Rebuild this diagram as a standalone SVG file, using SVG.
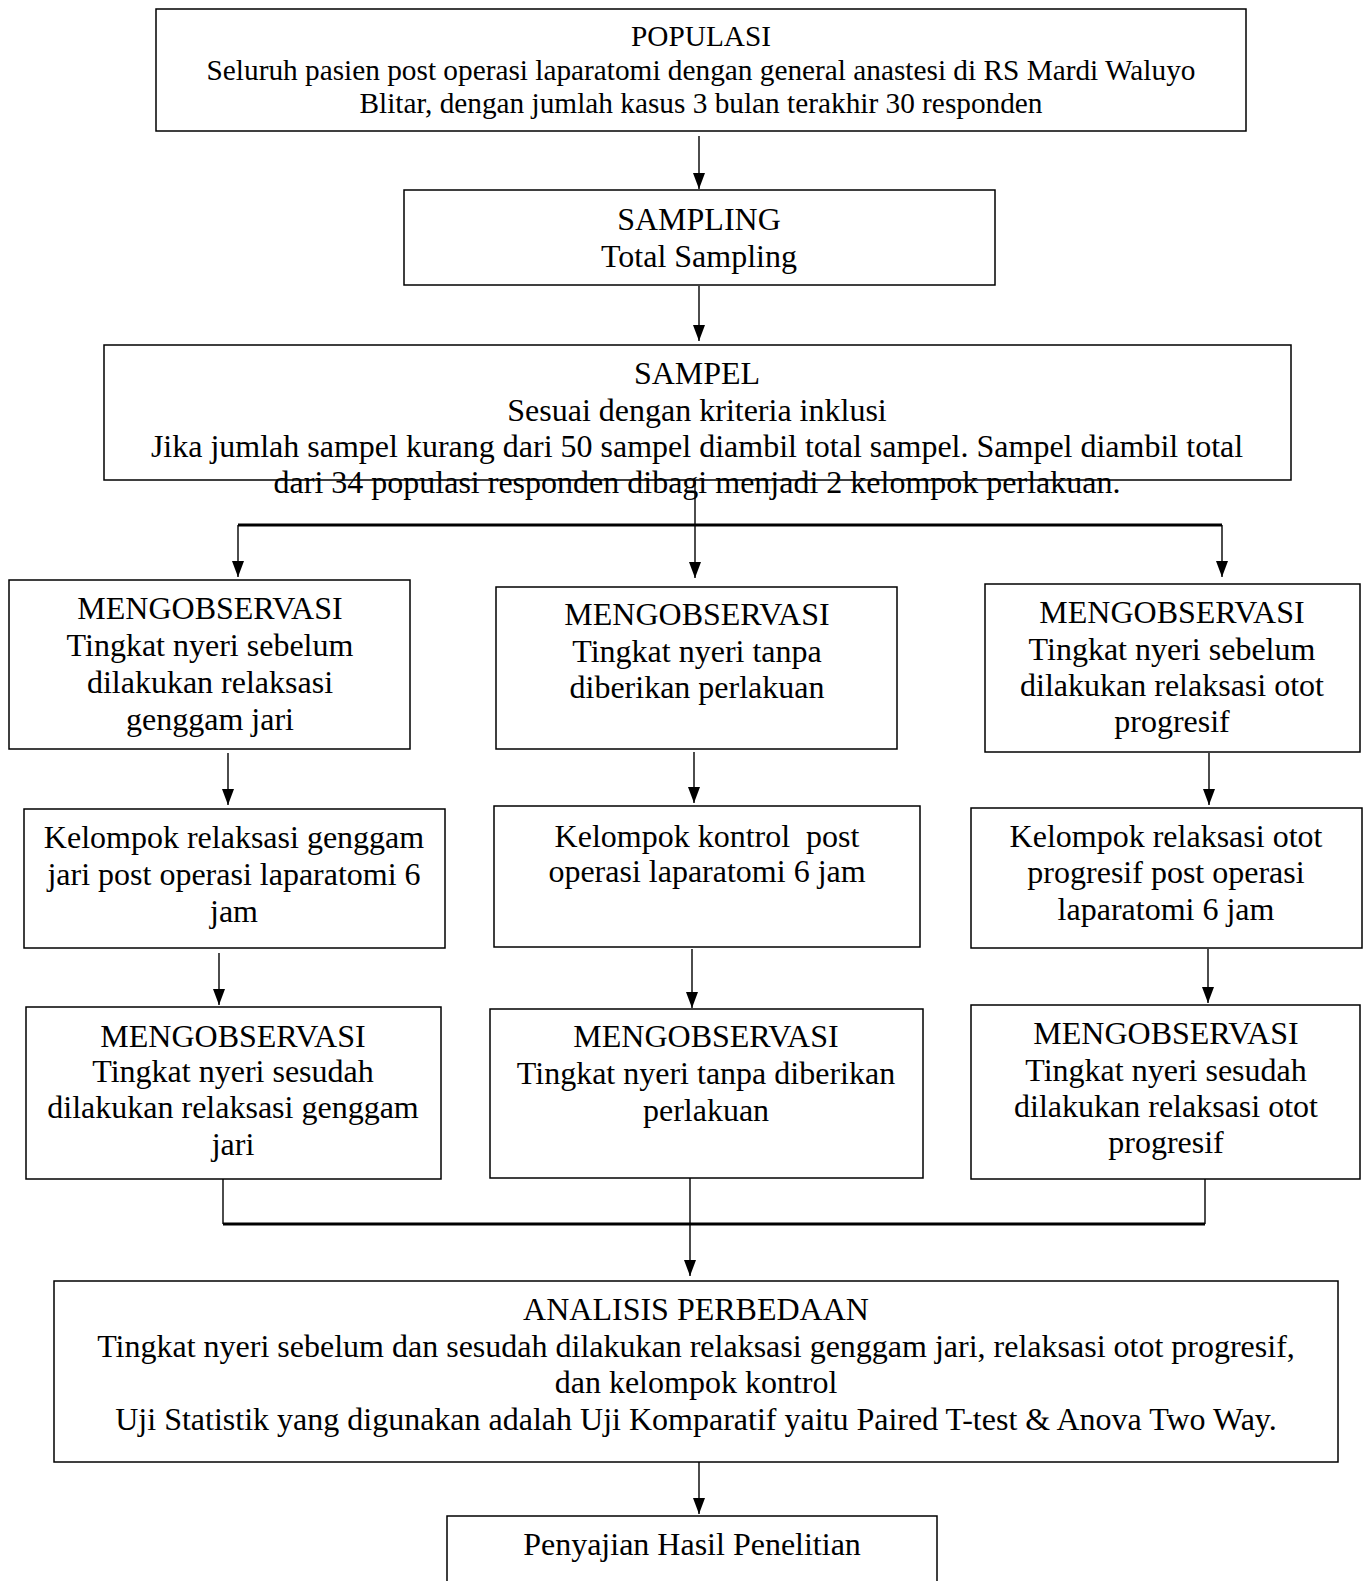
<svg xmlns="http://www.w3.org/2000/svg" width="1368" height="1581" viewBox="0 0 1368 1581">
<style>
.box{fill:#fff;stroke:#000;stroke-width:1.5}
.t{font-family:"Liberation Serif","Times New Roman",serif;font-size:32px;fill:#000;text-anchor:middle}
.s{font-size:29.3px}
.c{stroke:#000;stroke-width:1.4;fill:none}
.bar{stroke:#000;stroke-width:3.2;fill:none}
</style>
<defs>
<marker id="a" viewBox="0 0 16 12" refX="16" refY="6" markerWidth="16" markerHeight="12" markerUnits="userSpaceOnUse" orient="auto">
<path d="M0,0 L16,6 L0,12 z" fill="#000"/>
</marker>
</defs>
<rect width="1368" height="1581" fill="#fff"/>

<g id="connectors">
<line class="c" x1="699" y1="136" x2="699" y2="189" marker-end="url(#a)"/>
<line class="c" x1="699" y1="286" x2="699" y2="341" marker-end="url(#a)"/>
<line class="c" x1="695" y1="480" x2="695" y2="525"/>
<line class="bar" x1="238" y1="525" x2="1222" y2="525"/>
<line class="c" x1="238" y1="525" x2="238" y2="577" marker-end="url(#a)"/>
<line class="c" x1="695" y1="525" x2="695" y2="578" marker-end="url(#a)"/>
<line class="c" x1="1222" y1="525" x2="1222" y2="577" marker-end="url(#a)"/>
<line class="c" x1="228" y1="753" x2="228" y2="805" marker-end="url(#a)"/>
<line class="c" x1="694" y1="752" x2="694" y2="803" marker-end="url(#a)"/>
<line class="c" x1="1209" y1="753" x2="1209" y2="805" marker-end="url(#a)"/>
<line class="c" x1="219" y1="953" x2="219" y2="1005" marker-end="url(#a)"/>
<line class="c" x1="692" y1="949" x2="692" y2="1008" marker-end="url(#a)"/>
<line class="c" x1="1208" y1="949" x2="1208" y2="1003" marker-end="url(#a)"/>
<line class="c" x1="223" y1="1179" x2="223" y2="1224"/>
<line class="c" x1="1205" y1="1179" x2="1205" y2="1224"/>
<line class="bar" x1="223" y1="1224" x2="1205" y2="1224"/>
<line class="c" x1="690" y1="1178" x2="690" y2="1276" marker-end="url(#a)"/>
<line class="c" x1="699" y1="1462" x2="699" y2="1514" marker-end="url(#a)"/>
</g>

<g id="populasi">
<rect class="box" x="156" y="9" width="1090" height="122"/>
<text class="t s" x="701" y="46">POPULASI</text>
<text class="t s" x="701" y="80">Seluruh pasien post operasi laparatomi dengan general anastesi di RS Mardi Waluyo</text>
<text class="t s" x="701" y="113">Blitar, dengan jumlah kasus 3 bulan terakhir 30 responden</text>
</g>

<g id="sampling">
<rect class="box" x="404" y="190" width="591" height="95"/>
<text class="t" x="699" y="230">SAMPLING</text>
<text class="t" x="699" y="267">Total Sampling</text>
</g>

<g id="sampel">
<rect class="box" x="104" y="345" width="1187" height="135"/>
<text class="t" x="697" y="384">SAMPEL</text>
<text class="t" x="697" y="421">Sesuai dengan kriteria inklusi</text>
<text class="t" x="697" y="457">Jika jumlah sampel kurang dari 50 sampel diambil total sampel. Sampel diambil total</text>
<text class="t" x="697" y="493">dari 34 populasi responden dibagi menjadi 2 kelompok perlakuan.</text>
</g>

<g id="obs-pre-genggam">
<rect class="box" x="9" y="580" width="401" height="169"/>
<text class="t" x="210" y="619">MENGOBSERVASI</text>
<text class="t" x="210" y="656">Tingkat nyeri sebelum</text>
<text class="t" x="210" y="693">dilakukan relaksasi</text>
<text class="t" x="210" y="730">genggam jari</text>
</g>

<g id="obs-pre-kontrol">
<rect class="box" x="496" y="587" width="401" height="162"/>
<text class="t" x="697" y="625">MENGOBSERVASI</text>
<text class="t" x="697" y="662">Tingkat nyeri tanpa</text>
<text class="t" x="697" y="698">diberikan perlakuan</text>
</g>

<g id="obs-pre-otot">
<rect class="box" x="985" y="584" width="375" height="168"/>
<text class="t" x="1172" y="623">MENGOBSERVASI</text>
<text class="t" x="1172" y="660">Tingkat nyeri sebelum</text>
<text class="t" x="1172" y="696">dilakukan relaksasi otot</text>
<text class="t" x="1172" y="732">progresif</text>
</g>

<g id="kel-genggam">
<rect class="box" x="24" y="809" width="421" height="139"/>
<text class="t" x="234" y="848">Kelompok relaksasi genggam</text>
<text class="t" x="234" y="885">jari post operasi laparatomi 6</text>
<text class="t" x="234" y="922">jam</text>
</g>

<g id="kel-kontrol">
<rect class="box" x="494" y="806" width="426" height="141"/>
<text class="t" x="707" y="847" xml:space="preserve">Kelompok kontrol  post</text>
<text class="t" x="707" y="882">operasi laparatomi 6 jam</text>
</g>

<g id="kel-otot">
<rect class="box" x="971" y="808" width="391" height="140"/>
<text class="t" x="1166" y="847">Kelompok relaksasi otot</text>
<text class="t" x="1166" y="883">progresif post operasi</text>
<text class="t" x="1166" y="920">laparatomi 6 jam</text>
</g>

<g id="obs-post-genggam">
<rect class="box" x="26" y="1007" width="415" height="172"/>
<text class="t" x="233" y="1047">MENGOBSERVASI</text>
<text class="t" x="233" y="1082">Tingkat nyeri sesudah</text>
<text class="t" x="233" y="1118">dilakukan relaksasi genggam</text>
<text class="t" x="233" y="1155">jari</text>
</g>

<g id="obs-post-kontrol">
<rect class="box" x="490" y="1009" width="433" height="169"/>
<text class="t" x="706" y="1047">MENGOBSERVASI</text>
<text class="t" x="706" y="1084">Tingkat nyeri tanpa diberikan</text>
<text class="t" x="706" y="1121">perlakuan</text>
</g>

<g id="obs-post-otot">
<rect class="box" x="971" y="1005" width="389" height="174"/>
<text class="t" x="1166" y="1044">MENGOBSERVASI</text>
<text class="t" x="1166" y="1081">Tingkat nyeri sesudah</text>
<text class="t" x="1166" y="1117">dilakukan relaksasi otot</text>
<text class="t" x="1166" y="1153">progresif</text>
</g>

<g id="analisis">
<rect class="box" x="54" y="1281" width="1284" height="181"/>
<text class="t" x="696" y="1320">ANALISIS PERBEDAAN</text>
<text class="t" x="696" y="1357">Tingkat nyeri sebelum dan sesudah dilakukan relaksasi genggam jari, relaksasi otot progresif,</text>
<text class="t" x="696" y="1393">dan kelompok kontrol</text>
<text class="t" x="696" y="1430">Uji Statistik yang digunakan adalah Uji Komparatif yaitu Paired T-test &amp; Anova Two Way.</text>
</g>

<g id="penyajian">
<rect class="box" x="447" y="1516" width="490" height="100"/>
<text class="t" x="692" y="1555">Penyajian Hasil Penelitian</text>
</g>
</svg>
